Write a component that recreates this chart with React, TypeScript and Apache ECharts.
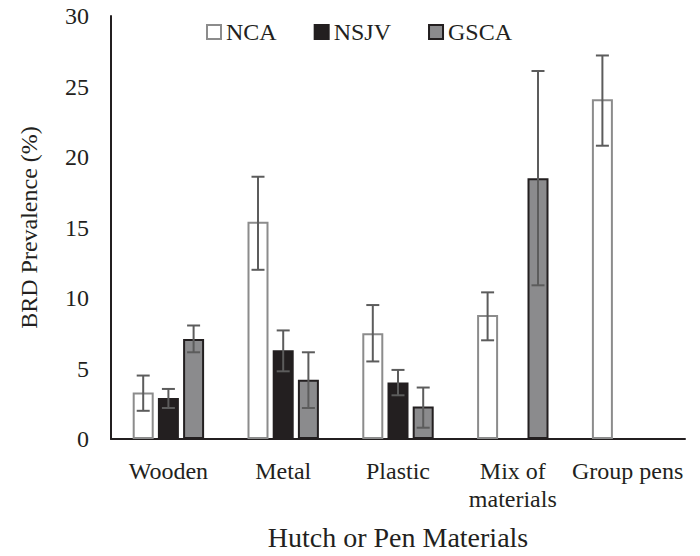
import React, { useEffect, useRef } from "react";
import * as echarts from "echarts";

const categories = ["Wooden", "Metal", "Plastic", "Mix of\nmaterials", "Group pens"];
const seriesNames = ["NCA", "NSJV", "GSCA"];

const ncaValues = [3.3, 15.4, 7.5, 8.8, 24.1];
const ncaLow = [2.0, 12.0, 5.5, 7.0, 20.8];
const ncaHigh = [4.5, 18.6, 9.5, 10.4, 27.2];

const nsjvValues = [2.9, 6.3, 4.0, null, null];
const nsjvLow = [2.2, 4.8, 3.1, null, null];
const nsjvHigh = [3.55, 7.7, 4.9, null, null];

const gscaValues = [7.1, 4.2, 2.3, 18.5, null];
const gscaLow = [6.15, 2.2, 0.8, 10.9, null];
const gscaHigh = [8.05, 6.15, 3.65, 26.1, null];

const yTicks = [0, 5, 10, 15, 20, 25, 30];

const FONT = "Liberation Serif";
const TEXT = "#231f20";
const BAR_W = 21;
const BAR_PITCH = 25.2;

export default function App() {
  const ref = useRef<HTMLDivElement>(null);

  useEffect(() => {
    if (!ref.current) return;
    const chart = echarts.init(ref.current, null, { renderer: "svg" });

    const lows = [ncaLow, nsjvLow, gscaLow];
    const highs = [ncaHigh, nsjvHigh, gscaHigh];
    const errData: number[][] = [];
    lows.forEach((arr, s) => {
      arr.forEach((lo, c) => {
        const hi = highs[s][c];
        if (lo != null && hi != null) errData.push([c, s, lo, hi]);
      });
    });

    const toData = (arr: (number | null)[]) => arr.map((v) => (v == null ? "-" : v));

    chart.setOption({
      animation: false,
      textStyle: { fontFamily: FONT, color: TEXT },
      legend: {
        data: seriesNames,
        left: 201,
        top: 15,
        itemWidth: 14,
        itemHeight: 14,
        itemGap: 37,
        icon: "rect",
        textStyle: { fontFamily: FONT, fontSize: 24, color: TEXT },
      },
      grid: { left: 111, right: 15, top: 16, bottom: 113, containLabel: false },
      xAxis: {
        type: "category",
        data: categories,
        name: "Hutch or Pen Materials",
        nameLocation: "middle",
        nameGap: 84,
        nameTextStyle: { fontFamily: FONT, fontSize: 28, color: TEXT },
        axisLine: { show: true, lineStyle: { color: TEXT, width: 2 } },
        axisTick: { show: false },
        axisLabel: {
          interval: 0,
          fontFamily: FONT,
          fontSize: 24,
          color: TEXT,
          margin: 18,
          lineHeight: 28,
        },
      },
      yAxis: {
        type: "value",
        min: yTicks[0],
        max: yTicks[yTicks.length - 1],
        interval: yTicks[1] - yTicks[0],
        name: "BRD Prevalence (%)",
        nameLocation: "middle",
        nameGap: 70,
        nameTextStyle: { fontFamily: FONT, fontSize: 24, color: TEXT },
        axisLine: { show: true, lineStyle: { color: TEXT, width: 2 } },
        axisTick: { show: false },
        splitLine: { show: false },
        axisLabel: { fontFamily: FONT, fontSize: 24, color: TEXT, margin: 22 },
      },
      series: [
        {
          name: "NCA",
          type: "bar",
          data: toData(ncaValues),
          barWidth: BAR_W,
          barGap: "20%",
          itemStyle: { color: "#ffffff", borderColor: "#8c8c8c", borderWidth: 2 },
        },
        {
          name: "NSJV",
          type: "bar",
          data: toData(nsjvValues),
          barWidth: BAR_W,
          barGap: "20%",
          itemStyle: { color: "#231f20", borderColor: "#231f20", borderWidth: 2 },
        },
        {
          name: "GSCA",
          type: "bar",
          data: toData(gscaValues),
          barWidth: BAR_W,
          barGap: "20%",
          itemStyle: { color: "#8b8b8d", borderColor: "#231f20", borderWidth: 2 },
        },
        {
          name: "error",
          type: "custom",
          z: 5,
          data: errData,
          encode: { x: 0, y: [2, 3] },
          renderItem: (params: any, api: any) => {
            const c = api.value(0);
            const s = api.value(1);
            const lo = api.value(2);
            const hi = api.value(3);
            const base = api.coord([c, lo]);
            const top = api.coord([c, hi]);
            const x = base[0] + (s - 1) * BAR_PITCH;
            const half = 6.5;
            const style = { stroke: "#5c5c5c", lineWidth: 2 };
            return {
              type: "group",
              children: [
                { type: "line", shape: { x1: x, y1: base[1], x2: x, y2: top[1] }, style },
                { type: "line", shape: { x1: x - half, y1: top[1], x2: x + half, y2: top[1] }, style },
                { type: "line", shape: { x1: x - half, y1: base[1], x2: x + half, y2: base[1] }, style },
              ],
            };
          },
        },
      ],
    });

    return () => chart.dispose();
  }, []);

  return (
    <div
      ref={ref}
      style={{ position: "fixed", left: 0, top: 0, width: 700, height: 556, background: "#fff" }}
    />
  );
}
